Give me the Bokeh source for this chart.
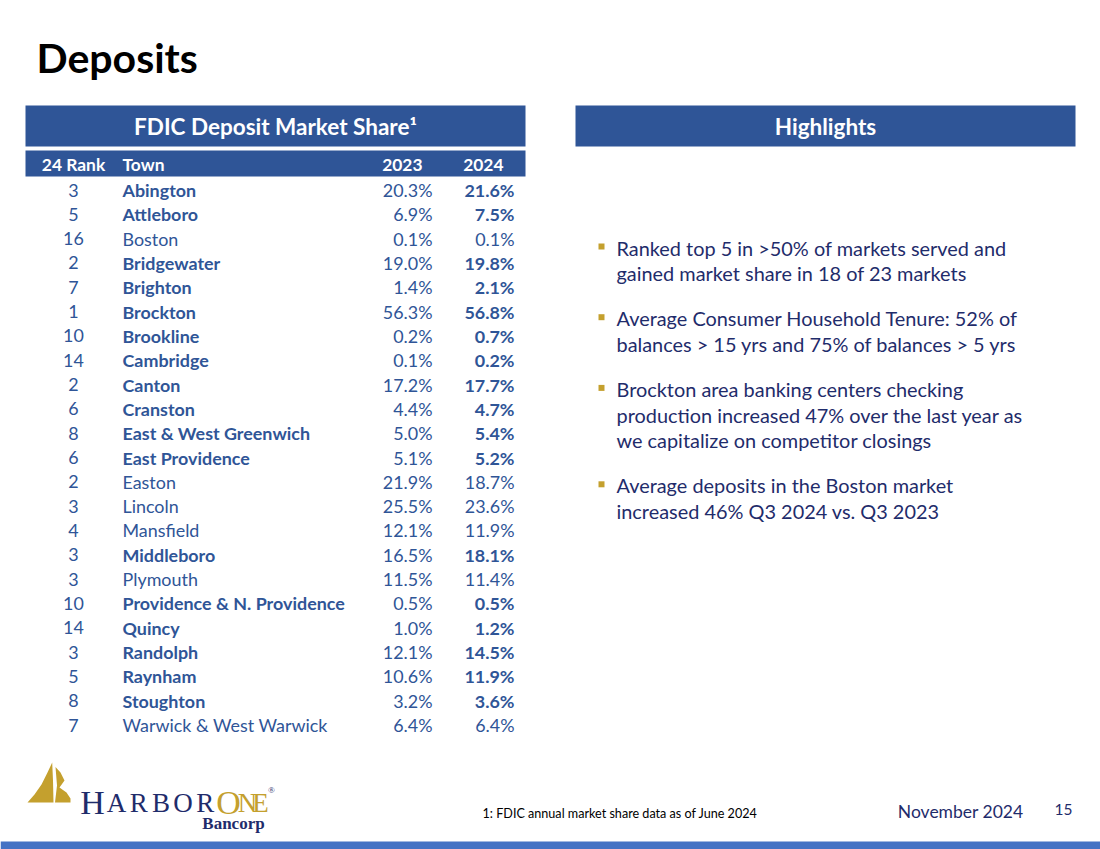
from bokeh.plotting import figure
from bokeh.models import Range1d, ColumnDataSource
from bokeh.core.properties import value
from bokeh.embed import file_html
from bokeh.resources import INLINE

# ---------------- data ----------------
title = "Deposits"
table_title = "FDIC Deposit Market Share\u00b9"
col_headers = ["24 Rank", "Town", "2023", "2024"]
ranks = [3, 5, 16, 2, 7, 1, 10, 14, 2, 6, 8, 6, 2, 3, 4, 3, 3, 10, 14, 3, 5, 8, 7]
towns = ["Abington", "Attleboro", "Boston", "Bridgewater", "Brighton", "Brockton",
         "Brookline", "Cambridge", "Canton", "Cranston", "East & West Greenwich",
         "East Providence", "Easton", "Lincoln", "Mansfield", "Middleboro", "Plymouth",
         "Providence & N. Providence", "Quincy", "Randolph", "Raynham", "Stoughton",
         "Warwick & West Warwick"]
share_2023 = [20.3, 6.9, 0.1, 19.0, 1.4, 56.3, 0.2, 0.1, 17.2, 4.4, 5.0, 5.1, 21.9,
              25.5, 12.1, 16.5, 11.5, 0.5, 1.0, 12.1, 10.6, 3.2, 6.4]
share_2024 = [21.6, 7.5, 0.1, 19.8, 2.1, 56.8, 0.7, 0.2, 17.7, 4.7, 5.4, 5.2, 18.7,
              23.6, 11.9, 18.1, 11.4, 0.5, 1.2, 14.5, 11.9, 3.6, 6.4]
highlighted = [1, 1, 0, 1, 1, 1, 1, 1, 1, 1, 1, 1, 0, 0, 0, 1, 0, 1, 1, 1, 1, 1, 0]

highlights_title = "Highlights"
highlights = [
    ["Ranked top 5 in >50% of markets served and",
     "gained market share in 18 of 23 markets"],
    ["Average Consumer Household Tenure: 52% of",
     "balances > 15 yrs and 75% of balances > 5 yrs"],
    ["Brockton area banking centers checking",
     "production increased 47% over the last year as",
     "we capitalize on competitor closings"],
    ["Average deposits in the Boston market",
     "increased 46% Q3 2024 vs. Q3 2023"],
]
footnote = "1: FDIC annual market share data as of June 2024"
date_text = "November 2024"
page_no = "15"

# ---------------- styles ----------------
FONT = "Lato"
SERIF = "Liberation Serif"
BLUE = "#2F5597"
NAVY = "#1F2C6B"
GOLD = "#C4A02E"
BAR = "#4472C4"

W, H = 1100, 849
p = figure(width=W, height=H, x_range=Range1d(0, W), y_range=Range1d(H, 0),
           toolbar_location=None, output_backend="svg", min_border=0,
           x_axis_location=None, y_axis_location=None)
p.grid.visible = False
p.outline_line_color = None
p.background_fill_color = "white"
p.border_fill_color = "white"

def txt(x, y, t, size, color, style="normal", align="left", font=FONT, baseline="middle"):
    p.text(x=[x], y=[y], text=[t], text_font=value(font), text_font_size=size,
           text_color=color, text_font_style=style, text_align=align,
           text_baseline=baseline)

# title
txt(36, 57, title, "41px", "black", "bold")

# table header bars
p.quad(left=[25, 25, 575], right=[525, 525, 1075], top=[105, 150, 105],
       bottom=[146, 176, 146], fill_color=BLUE, line_color=None)
txt(275, 126, table_title, "22.5px", "white", "bold", "center")
txt(825, 126, highlights_title, "22.5px", "white", "bold", "center")

col_x = [73, 122, 422, 503]
col_align = ["center", "left", "right", "right"]
for cx, h, a in zip(col_x, col_headers, col_align):
    txt(cx, 164, h, "17.4px", "white", "bold", a)

# table rows
y0, pitch = 189.5, (725 - 190) / 22
row_y = [y0 + i * pitch for i in range(len(towns))]
styles = ["bold" if h else "normal" for h in highlighted]
src = ColumnDataSource(dict(
    y=row_y,
    rank=[str(r) for r in ranks],
    town=towns,
    s23=[f"{v:.1f}%" for v in share_2023],
    s24=[f"{v:.1f}%" for v in share_2024],
    style=styles,
))
common = dict(y="y", source=src, text_font=value(FONT), text_font_size="17.9px",
              text_color=BLUE, text_baseline="middle")
p.text(x=73, text="rank", text_align="center", text_font_style="normal", **common)
p.text(x=122, text="town", text_align="left", text_font_style="style", **common)
p.text(x=432, text="s23", text_align="right", text_font_style="normal", **common)
p.text(x=514, text="s24", text_align="right", text_font_style="style", **common)

# highlights bullets
y = 247
line_pitch, bullet_gap = 25.7, 45
for lines in highlights:
    p.scatter(x=[601], y=[y - 1], marker="square", size=6, fill_color=GOLD, line_color=None)
    for j, ln in enumerate(lines):
        txt(616, y + j * line_pitch, ln, "19.9px", NAVY)
    y += (len(lines) - 1) * line_pitch + bullet_gap

# footer
txt(482, 813, footnote, "12.6px", "black")
txt(1023, 811, date_text, "17.5px", NAVY, align="right")
txt(1072, 809, page_no, "15.5px", NAVY, align="right")

# bottom bar
p.quad(left=[0], right=[W], top=[841], bottom=[H], fill_color=BAR, line_color=None)

# logo: sails
p.patch(x=[27, 34, 41, 47, 51.7, 52.5, 53], y=[802, 794, 784, 772, 762, 780, 802],
        fill_color=GOLD, line_color=None)
p.patch(x=[55, 60, 64, 59, 66, 70, 70, 54.5, 56.5],
        y=[766.5, 772, 780, 787, 792, 798, 802, 802, 785],
        fill_color=GOLD, line_color=None)
# logo: wordmark
txt(92, 802, "H", "34px", NAVY, align="center", font=SERIF, baseline="alphabetic")
for i, ch in enumerate("ARBOR"):
    txt(116 + i * 22.2, 802, ch, "27px", NAVY, align="center", font=SERIF, baseline="alphabetic")
txt(228, 802, "O", "34px", GOLD, align="center", font=SERIF, baseline="alphabetic")
txt(247, 802, "N", "27px", GOLD, align="center", font=SERIF, baseline="alphabetic")
txt(260, 802, "E", "27px", GOLD, align="center", font=SERIF, baseline="alphabetic")
txt(271, 789, "\u00ae", "9px", NAVY, align="center", font=SERIF)
txt(233, 823, "Bancorp", "17px", NAVY, "bold", align="center", font=SERIF, baseline="alphabetic")

open("out.html", "w").write(file_html(p, INLINE))
